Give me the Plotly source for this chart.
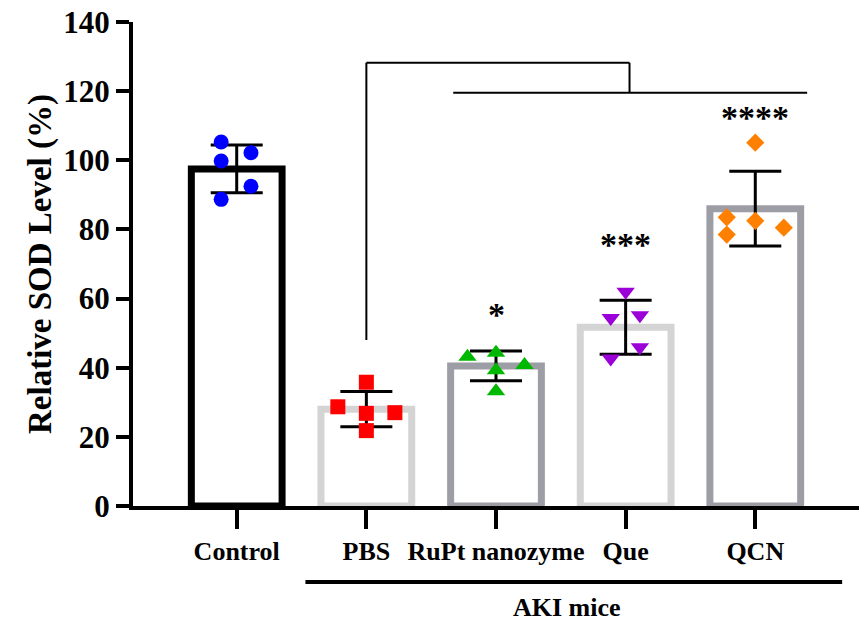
import plotly.graph_objects as go

categories = ["Control", "PBS", "RuPt nanozyme", "Que", "QCN"]
means = [97.5, 28.0, 40.5, 51.7, 86.0]
sds = [6.9, 5.1, 4.3, 7.8, 10.8]

pts_control = [105.3, 102.2, 99.8, 92.5, 88.7]
pts_pbs = [35.8, 28.7, 26.8, 27.0, 21.8]
pts_rupt = [43.2, 44.3, 40.8, 39.3, 33.2]
pts_que = [62.0, 54.4, 55.2, 45.9, 42.7]
pts_qcn = [105.1, 83.5, 82.5, 80.5, 78.5]

jit_control = [-0.12, 0.11, -0.12, 0.11, -0.12]
jit_pbs = [0.0, -0.22, 0.0, 0.22, 0.0]
jit_rupt = [-0.22, 0.0, 0.22, 0.0, 0.0]
jit_que = [0.0, -0.115, 0.11, 0.11, -0.115]
jit_qcn = [0.0, -0.22, 0.0, 0.22, -0.22]

stars = ["", "", "*", "***", "****"]
star_y = [None, None, 55.5, 75.5, 112.5]

bar_line_colors = ["#000000", "#d4d4d4", "#9d9da5", "#d4d4d4", "#9d9da5"]
point_colors = ["#0000ff", "#ff0000", "#00b800", "#9b00d8", "#ff8000"]
point_symbols = ["circle", "square", "triangle-up", "triangle-down", "diamond"]
point_sizes = [15, 15, 16, 16, 14]

xs = list(range(len(categories)))

fig = go.Figure()
fig.add_trace(go.Bar(
    x=xs, y=means, width=0.7,
    marker=dict(color="white", line=dict(color=bar_line_colors, width=7)),
    error_y=dict(type="data", array=sds, visible=True, color="black",
                 thickness=3, width=26),
    showlegend=False,
))

all_pts = [pts_control, pts_pbs, pts_rupt, pts_que, pts_qcn]
all_jit = [jit_control, jit_pbs, jit_rupt, jit_que, jit_qcn]
for i, (p, j) in enumerate(zip(all_pts, all_jit)):
    fig.add_trace(go.Scatter(
        x=[i + d for d in j], y=p, mode="markers",
        marker=dict(color=point_colors[i], symbol=point_symbols[i],
                    size=point_sizes[i], line=dict(width=0)),
        showlegend=False, cliponaxis=False,
    ))

font_family = "'Liberation Serif', 'Times New Roman', 'DejaVu Serif', serif"

for i, s in enumerate(stars):
    if s:
        fig.add_annotation(x=i, y=star_y[i], text="<b>%s</b>" % s, showarrow=False,
                           font=dict(family=font_family, size=34, color="black"),
                           yanchor="middle")

# significance bracket
line_style = dict(color="black", width=2)
fig.add_shape(type="line", x0=1, x1=1, y0=48, y1=128.2, line=line_style)
fig.add_shape(type="line", x0=1, x1=3.03, y0=128.2, y1=128.2, line=line_style)
fig.add_shape(type="line", x0=3.03, x1=3.03, y0=128.2, y1=119.5, line=line_style)
fig.add_shape(type="line", x0=1.67, x1=4.40, y0=119.5, y1=119.5, line=line_style)

# AKI mice group line
fig.add_shape(type="line", xref="x", yref="paper", x0=0.53, x1=4.67,
              y0=-0.157, y1=-0.157, line=dict(color="black", width=4))
fig.add_annotation(xref="x", yref="paper", x=2.55, y=-0.209, text="<b>AKI mice</b>",
                   showarrow=False, yanchor="middle",
                   font=dict(family=font_family, size=26, color="black"))

fig.update_layout(
    width=859, height=628,
    margin=dict(l=133, r=0, t=22, b=122),
    plot_bgcolor="white", paper_bgcolor="white",
    bargap=0.3,
    xaxis=dict(
        range=[-0.8, 4.8], tickmode="array", tickvals=xs,
        ticktext=["<b>%s</b>" % c for c in categories],
        showline=True, linecolor="black", linewidth=4,
        ticks="outside", ticklen=19, tickwidth=4, tickcolor="black",
        tickfont=dict(family=font_family, size=26, color="black"),
        showgrid=False, zeroline=False, fixedrange=True,
    ),
    yaxis=dict(
        range=[0, 140], tickmode="array", tickvals=[0, 20, 40, 60, 80, 100, 120, 140],
        ticktext=["<b>%d</b>" % v for v in [0, 20, 40, 60, 80, 100, 120, 140]],
        showline=True, linecolor="black", linewidth=4,
        ticks="outside", ticklen=13, tickwidth=4, tickcolor="black",
        tickfont=dict(family=font_family, size=31, color="black"),
        title=dict(text="<b>Relative SOD Level (%)</b>", standoff=3,
                   font=dict(family=font_family, size=33, color="black")),
        showgrid=False, zeroline=False, fixedrange=True,
    ),
)

fig.write_html("out.html")
